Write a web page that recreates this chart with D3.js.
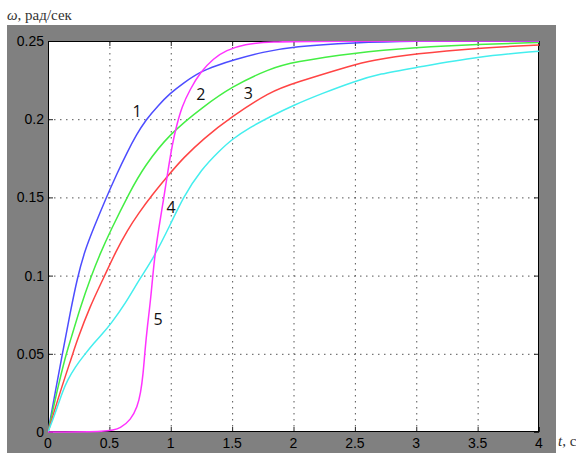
<!DOCTYPE html>
<html>
<head>
<meta charset="utf-8">
<script src="https://cdn.jsdelivr.net/npm/d3@7"></script>
<style>
  body { margin: 0; background: #fff; }
  svg { display: block; }
</style>
</head>
<body>
<div id="chart"></div>
<script>
// curve samples: t (s) and omega (rad/s)
const t1 = [0, 0.06, 0.12, 0.18, 0.24, 0.3, 0.375, 0.47, 0.56, 0.646, 0.72, 0.796, 0.9, 0.994, 1.1, 1.238, 1.38, 1.51, 1.75, 2.0, 2.49, 3.0, 3.5, 4];
const w1 = [0, 0.026, 0.051, 0.076, 0.099, 0.116, 0.131, 0.149, 0.165, 0.179, 0.19, 0.1995, 0.209, 0.2165, 0.223, 0.2303, 0.2345, 0.2378, 0.243, 0.2465, 0.249, 0.25, 0.25, 0.25];

const t2 = [0, 0.07, 0.144, 0.185, 0.26, 0.348, 0.43, 0.511, 0.66, 0.782, 0.994, 1.265, 1.496, 1.81, 2.0, 2.49, 3.0, 3.5, 4];
const w2 = [0, 0.025, 0.049, 0.059, 0.079, 0.099, 0.115, 0.129, 0.1526, 0.1697, 0.191, 0.208, 0.2208, 0.2325, 0.2365, 0.2425, 0.246, 0.248, 0.249];

const t3 = [0, 0.1, 0.198, 0.239, 0.34, 0.456, 0.55, 0.646, 0.74, 0.837, 1.0, 1.1, 1.265, 1.496, 1.81, 2.0, 2.49, 2.62, 3.0, 3.5, 4];
const w3 = [0, 0.026, 0.049, 0.059, 0.08, 0.099, 0.115, 0.129, 0.14, 0.1505, 0.166, 0.175, 0.1875, 0.2016, 0.2176, 0.223, 0.2347, 0.2374, 0.242, 0.2455, 0.2475];

const t4 = [0, 0.04, 0.076, 0.115, 0.157, 0.225, 0.293, 0.375, 0.44, 0.511, 0.63, 0.755, 0.858, 1.0, 1.1, 1.25, 1.4, 1.496, 1.65, 1.81, 2.0, 2.25, 2.49, 2.7, 3.0, 3.5, 4];
const w4 = [0, 0.008, 0.016, 0.025, 0.033, 0.042, 0.049, 0.057, 0.0625, 0.069, 0.082, 0.099, 0.111, 0.133, 0.15, 0.168, 0.18, 0.187, 0.195, 0.2016, 0.209, 0.217, 0.224, 0.229, 0.233, 0.24, 0.2435];

const t5 = [0, 0.5, 0.592, 0.674, 0.728, 0.755, 0.775, 0.79, 0.81, 0.837, 0.866, 0.904, 0.94, 0.975, 1.015, 1.048, 1.09, 1.157, 1.24, 1.35, 1.45, 1.6, 1.81, 2.2, 4];
const w5 = [0, 0, 0.0025, 0.0077, 0.016, 0.025, 0.037, 0.052, 0.068, 0.085, 0.111, 0.131, 0.148, 0.166, 0.185, 0.196, 0.208, 0.219, 0.23, 0.239, 0.244, 0.248, 0.2495, 0.25, 0.25];

const xTicks = [0, 0.5, 1, 1.5, 2, 2.5, 3, 3.5, 4];
const yTicks = [0, 0.05, 0.1, 0.15, 0.2, 0.25];

const curveLabels = ["1", "2", "3", "4", "5"];
// label baselines in data units (t, omega)
const labelT = [0.725, 1.246, 1.633, 1.002, 0.896];
const labelW = [0.2014, 0.2123, 0.2129, 0.14, 0.0684];

const width = 576, height = 453;
const plotLeft = 48, plotRight = 539, plotTop = 41, plotBottom = 432;

let svg = d3.select("#chart").append("svg")
  .attr("width", width)
  .attr("height", height);

// grey figure background
svg.append("rect")
  .attr("x", 7).attr("y", 25)
  .attr("width", 549).attr("height", 428)
  .attr("fill", "#808080");

svg.append("rect")
  .attr("x", plotLeft).attr("y", plotTop)
  .attr("width", plotRight - plotLeft).attr("height", plotBottom - plotTop)
  .attr("fill", "#fff");

const x = d3.scaleLinear().domain([0, 4]).range([plotLeft, plotRight]);
const y = d3.scaleLinear().domain([0, 0.25]).range([plotBottom, plotTop]);

// dotted grid
svg.selectAll(".vgrid")
  .data(xTicks.slice(1, -1))
  .join("line")
  .attr("x1", d => x(d) + 0.5).attr("x2", d => x(d) + 0.5)
  .attr("y1", plotTop).attr("y2", plotBottom)
  .attr("stroke", "#555")
  .attr("stroke-dasharray", "1.5,4.5");

svg.selectAll(".hgrid")
  .data(yTicks.slice(1, -1))
  .join("line")
  .attr("y1", d => y(d) + 0.5).attr("y2", d => y(d) + 0.5)
  .attr("x1", plotLeft).attr("x2", plotRight)
  .attr("stroke", "#555")
  .attr("stroke-dasharray", "1.5,4.5");

// inward ticks on all four sides
const tickLen = 5;
xTicks.forEach(d => {
  svg.append("line").attr("x1", x(d) + 0.5).attr("x2", x(d) + 0.5)
    .attr("y1", plotBottom).attr("y2", plotBottom - tickLen).attr("stroke", "#222");
  svg.append("line").attr("x1", x(d) + 0.5).attr("x2", x(d) + 0.5)
    .attr("y1", plotTop).attr("y2", plotTop + tickLen).attr("stroke", "#222");
});
yTicks.forEach(d => {
  svg.append("line").attr("y1", y(d) + 0.5).attr("y2", y(d) + 0.5)
    .attr("x1", plotLeft).attr("x2", plotLeft + tickLen).attr("stroke", "#222");
  svg.append("line").attr("y1", y(d) + 0.5).attr("y2", y(d) + 0.5)
    .attr("x1", plotRight).attr("x2", plotRight - tickLen).attr("stroke", "#222");
});

// plot box
svg.append("rect")
  .attr("x", plotLeft + 0.5).attr("y", plotTop + 0.5)
  .attr("width", plotRight - plotLeft - 1).attr("height", plotBottom - plotTop - 1)
  .attr("fill", "none")
  .attr("stroke", "#000");

// curves
const series = [
  { t: t1, w: w1, color: "#4d4dff" },
  { t: t2, w: w2, color: "#44ee44" },
  { t: t3, w: w3, color: "#ff4444" },
  { t: t4, w: w4, color: "#44eeee" },
  { t: t5, w: w5, color: "#ff33ff" }
];

let line = d3.line()
  .x(d => x(d[0]))
  .y(d => y(d[1]))
  .curve(d3.curveBasis);

svg.append("clipPath").attr("id", "clip")
  .append("rect")
  .attr("x", plotLeft).attr("y", plotTop)
  .attr("width", plotRight - plotLeft).attr("height", plotBottom - plotTop + 2);

svg.selectAll(".curve")
  .data(series)
  .join("path")
  .attr("class", "curve")
  .attr("d", s => line(s.t.map((t, i) => [t, s.w[i]])))
  .attr("fill", "none")
  .attr("stroke", s => s.color)
  .attr("stroke-width", 1.5)
  .attr("clip-path", "url(#clip)");

// tick labels
svg.selectAll(".xlab")
  .data(xTicks)
  .join("text")
  .attr("x", d => x(d))
  .attr("y", plotBottom + 16)
  .attr("text-anchor", "middle")
  .attr("font-family", "Liberation Sans, Arial, sans-serif")
  .attr("font-size", 14)
  .attr("fill", "#000")
  .text(d => d);

svg.selectAll(".ylab")
  .data(yTicks)
  .join("text")
  .attr("x", plotLeft - 4)
  .attr("y", d => y(d) + 5)
  .attr("text-anchor", "end")
  .attr("font-family", "Liberation Sans, Arial, sans-serif")
  .attr("font-size", 14)
  .attr("fill", "#000")
  .text(d => d);

// curve numbers
svg.selectAll(".clab")
  .data(curveLabels)
  .join("text")
  .attr("x", (d, i) => x(labelT[i]))
  .attr("y", (d, i) => y(labelW[i]))
  .attr("text-anchor", "middle")
  .attr("font-family", "Open Sans, DejaVu Sans, sans-serif")
  .attr("font-size", 16)
  .attr("fill", "#111")
  .text(d => d);

// axis names
let yName = svg.append("text")
  .attr("x", 7).attr("y", 20)
  .attr("font-family", "Liberation Serif, Times New Roman, serif")
  .attr("font-size", 15)
  .attr("fill", "#333");
yName.append("tspan").attr("font-style", "italic").text("ω");
yName.append("tspan").text(", рад/сек");

let xName = svg.append("text")
  .attr("x", 558).attr("y", 446)
  .attr("font-family", "Liberation Serif, Times New Roman, serif")
  .attr("font-size", 15)
  .attr("fill", "#333");
xName.append("tspan").attr("font-style", "italic").text("t");
xName.append("tspan").text(", c");
</script>
</body>
</html>
